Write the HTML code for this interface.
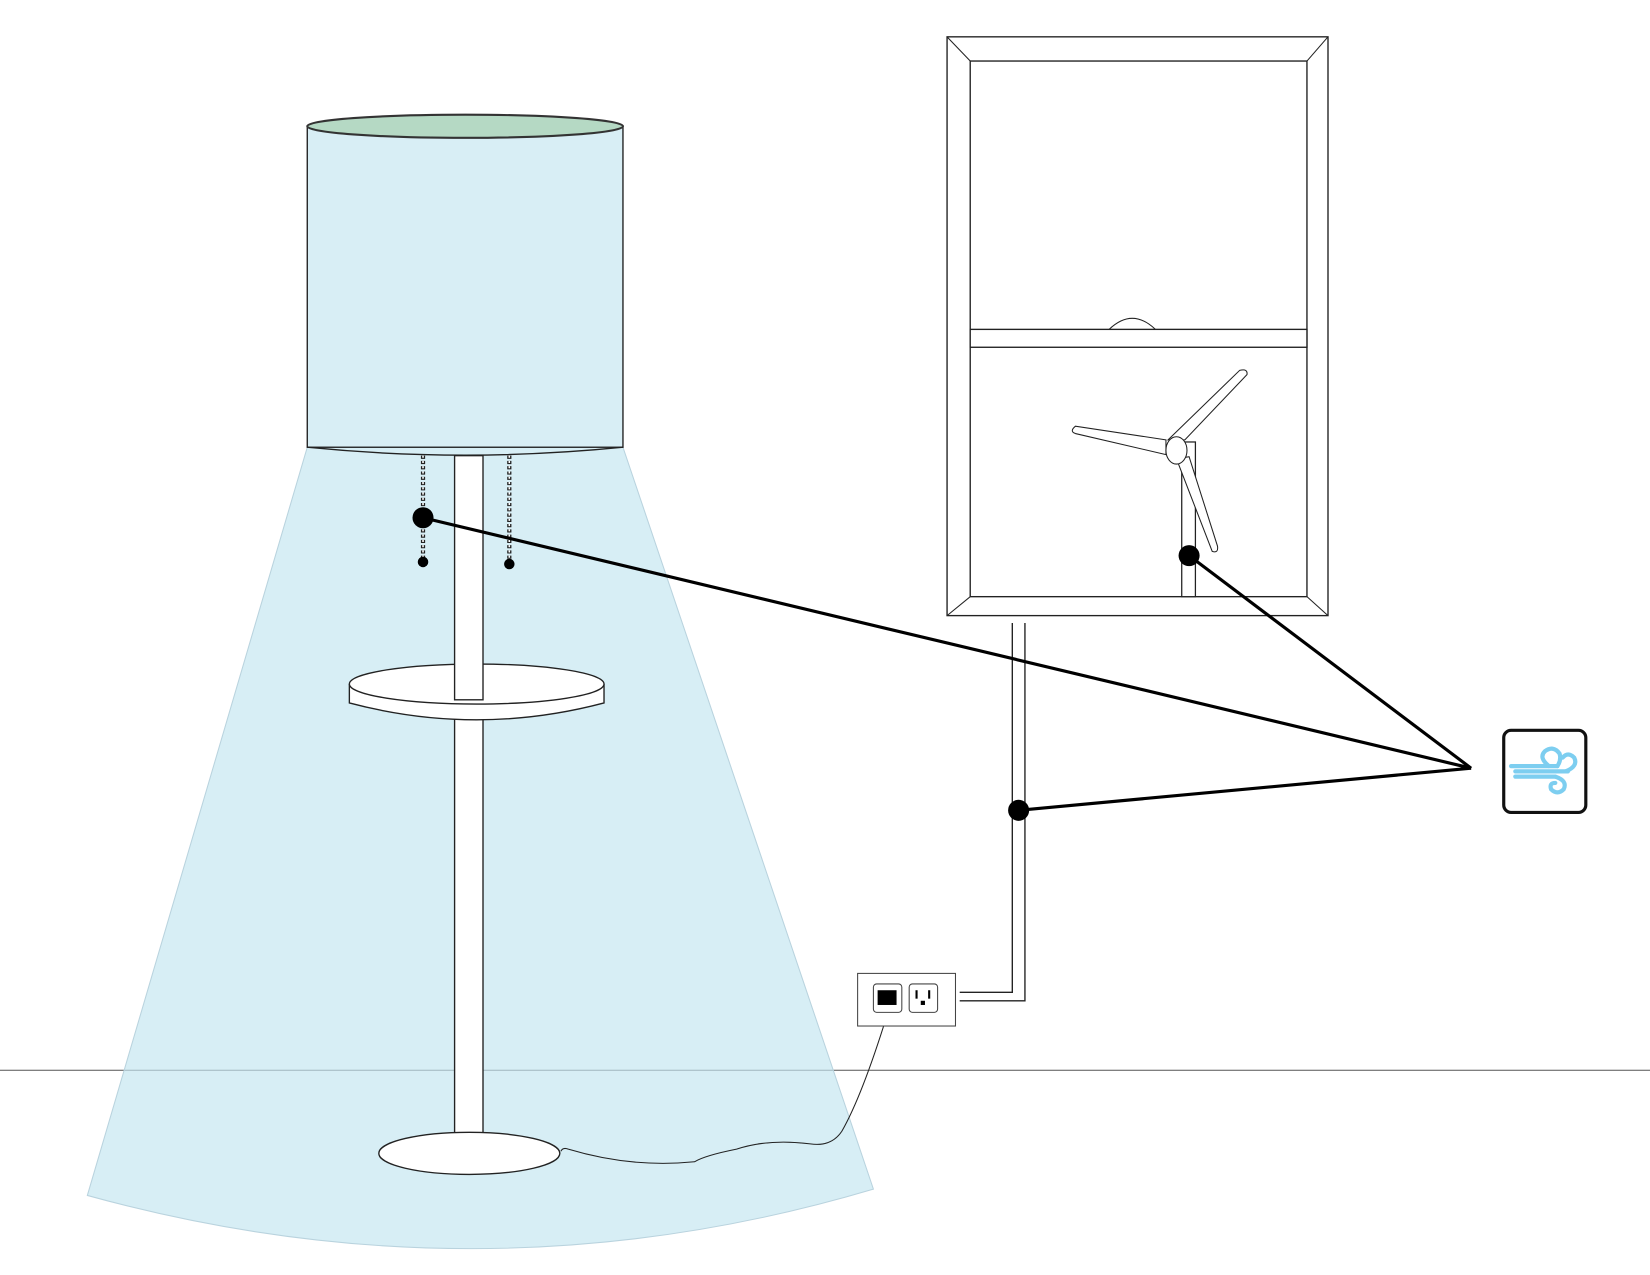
<!DOCTYPE html>
<html><head><meta charset="utf-8"><style>html,body{margin:0;padding:0;background:#fff}svg{display:block}</style></head>
<body>
<svg width="1650" height="1275" viewBox="0 0 1568 1211.6" preserveAspectRatio="none" xmlns="http://www.w3.org/2000/svg">
<rect width="1568" height="1212" fill="#fff"/>
<!-- floor -->
<line x1="0" y1="1017" x2="1568" y2="1017" stroke="#555" stroke-width="1"/>
<!-- light cone -->
<path d="M292,425 L592,425 L830,1130 Q460,1240 83,1136 Z" fill="#c4e6f0" fill-opacity="0.68" stroke="#b9d3de" stroke-width="1"/>
<!-- shade -->
<rect x="292" y="120" width="300" height="305" fill="#d8eef5" stroke="#222" stroke-width="1.3"/>
<path d="M292,425 Q442,440 592,425" fill="none" stroke="#222" stroke-width="1.3"/>
<ellipse cx="442" cy="120" rx="150" ry="11" fill="#b5d9c4" stroke="#333" stroke-width="2"/>
<!-- chains -->
<line x1="402" y1="433" x2="402" y2="533" stroke="#222" stroke-width="4" stroke-dasharray="3,2"/>
<line x1="484" y1="433" x2="484" y2="536" stroke="#222" stroke-width="4" stroke-dasharray="3,2"/>
<line x1="402" y1="433" x2="402" y2="533" stroke="#fff" stroke-width="1.5" stroke-dasharray="2,3"/>
<line x1="484" y1="433" x2="484" y2="536" stroke="#fff" stroke-width="1.5" stroke-dasharray="2,3"/>
<circle cx="402" cy="534" r="5" fill="#000"/>
<circle cx="484" cy="536" r="5" fill="#000"/>
<!-- pole lower -->
<rect x="432" y="672" width="27" height="408" fill="#fff" stroke="#222" stroke-width="1.3"/>
<!-- tray -->
<path d="M332,650 L332,668 Q453,700 574,668 L574,650" fill="#fff" stroke="#222" stroke-width="1.3"/>
<ellipse cx="453" cy="650" rx="121" ry="19" fill="#fff" stroke="#222" stroke-width="1.3"/>
<!-- pole upper -->
<rect x="432" y="433" width="27" height="232" fill="#fff" stroke="#222" stroke-width="1.3"/>
<!-- base -->
<ellipse cx="446" cy="1096" rx="86" ry="20" fill="#fff" stroke="#222" stroke-width="1.3"/>
<!-- cord -->
<path d="M845,958 Q820,1040 800,1075 Q790,1090 770,1087 Q730,1082 700,1092 Q670,1098 660,1104 Q600,1110 540,1092 Q535,1090 533,1094" fill="none" stroke="#222" stroke-width="1"/>
<!-- window -->
<rect x="900" y="35" width="362" height="550" fill="#fff" stroke="#222" stroke-width="1.3"/>
<rect x="922" y="58" width="320" height="509" fill="#fff" stroke="#222" stroke-width="1.3"/>
<line x1="900" y1="35" x2="922" y2="58" stroke="#222"/><line x1="1262" y1="35" x2="1242" y2="58" stroke="#222"/>
<line x1="900" y1="585" x2="922" y2="567" stroke="#222"/><line x1="1262" y1="585" x2="1242" y2="567" stroke="#222"/>
<rect x="922" y="313" width="320" height="17" fill="#fff" stroke="#222" stroke-width="1.3"/>
<path d="M1054,313 Q1076,292 1098,313" fill="none" stroke="#222"/>
<!-- turbine -->
<rect x="1123" y="420" width="13" height="147" fill="#fff" stroke="#222" stroke-width="1.2"/>
<path d="M1110,418 L1178,352 Q1186,350 1185,356 L1126,418 Z" fill="#fff" stroke="#222"/>
<path d="M1108,418 L1022,405 Q1016,410 1022,412 L1108,432 Z" fill="#fff" stroke="#222"/>
<path d="M1118,436 L1152,524 Q1158,526 1157,519 L1130,434 Z" fill="#fff" stroke="#222"/>
<ellipse cx="1118" cy="428" rx="10" ry="13" fill="#fff" stroke="#222"/>
<!-- conduit -->
<path d="M962,592 L962,943 L912,943" fill="none" stroke="#222" stroke-width="1.3"/>
<path d="M974,592 L974,951 L912,951" fill="none" stroke="#222" stroke-width="1.3"/>
<!-- outlet -->
<rect x="815" y="925" width="93" height="50" fill="#fff" stroke="#444" stroke-width="1"/>
<rect x="830" y="935" width="27" height="27" rx="3" fill="#fff" stroke="#444"/>
<rect x="834" y="941" width="18" height="14" fill="#000"/>
<rect x="864" y="935" width="27" height="27" rx="3" fill="#fff" stroke="#444"/>
<rect x="870" y="941" width="2" height="8" fill="#000"/><rect x="882" y="941" width="2" height="8" fill="#000"/>
<rect x="875" y="951" width="4" height="4" fill="#000"/>
<!-- connectors -->
<g stroke="#000" stroke-width="3" fill="none">
<line x1="402" y1="492" x2="1398" y2="730"/>
<line x1="1130" y1="528" x2="1398" y2="730"/>
<line x1="968" y1="770" x2="1398" y2="730"/>
</g>
<circle cx="402" cy="492" r="10" fill="#000"/>
<circle cx="1130" cy="528" r="10" fill="#000"/>
<circle cx="968" cy="770" r="10" fill="#000"/>
<!-- wind icon -->
<rect x="1429" y="694" width="78" height="78" rx="7" fill="#fff" stroke="#111" stroke-width="3"/>
<g stroke="#7dcef0" stroke-width="4" fill="none" stroke-linecap="round">
<path d="M1436,728 L1480,728"/>
<path d="M1440,733 L1490,733"/>
<path d="M1440,738 L1478,738"/>
<path d="M1472,728 Q1462,720 1468,714 Q1476,708 1482,716 Q1484,722 1480,728"/>
<path d="M1488,733 Q1500,728 1496,720 Q1490,714 1485,720"/>
<path d="M1478,738 Q1490,742 1486,750 Q1480,756 1474,750 Q1472,744 1478,744"/>
</g>
</svg>
</body></html>
